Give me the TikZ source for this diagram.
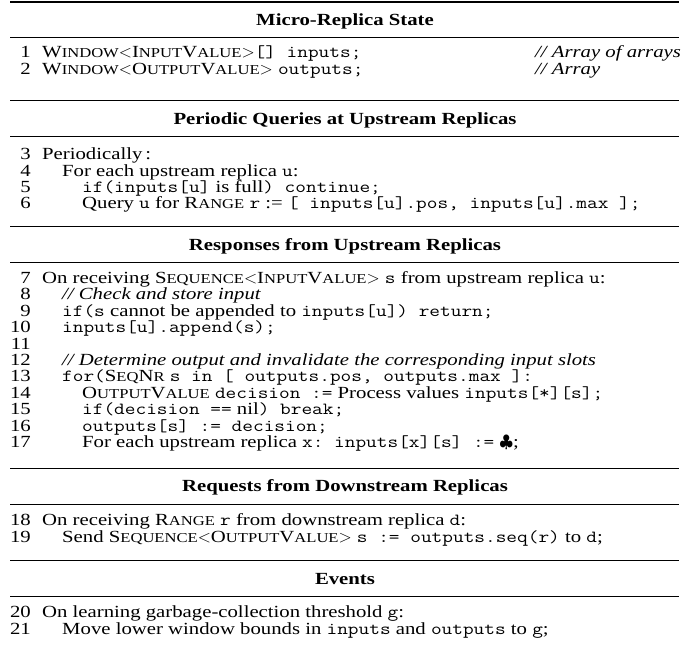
\documentclass[tikz,border=0pt]{standalone}
\usepackage{fontspec}
\setmainfont{Liberation Serif}[FakeStretch=1.22]
\setmonofont{Latin Modern Mono}[FakeStretch=1.22]
\usetikzlibrary{positioning}

\newcommand{\capsc}[2]{#1{\fontsize{13.6}{13.6}\selectfont #2}}
\newcommand{\mono}[1]{{\ttfamily #1}}

\tikzset{
  codeline/.style={anchor=base west, inner sep=0pt, font=\fontsize{17}{17}\selectfont},
  lineno/.style={anchor=base east, inner sep=0pt, font=\fontsize{17}{17}\selectfont},
  heading/.style={anchor=base, inner sep=0pt, font=\fontsize{17}{17}\selectfont\bfseries},
  comment/.style={codeline, font=\fontsize{17}{17}\selectfont\itshape},
  hrule/.style={line width=0.9pt},
}

\begin{document}
\begin{tikzpicture}[x=1pt, y=-1pt]

\useasboundingbox (0,0) rectangle (699,649);

\draw[hrule, line width=1.3pt] (10,2) -- (679,2);
\node[heading] (h1) at (345,25.5) {Micro-Replica State};
\draw[hrule] (10,37) -- (679,37);

\node[lineno] (n1) at (31,57.5) {1};
\node[codeline] (l1) at (42,57.5) {\capsc{W}{INDOW}$<$\capsc{I}{NPUT}\capsc{V}{ALUE}$>$\mono{[] inputs;}};
\node[comment] (c1) at (535,57.5) {// Array of arrays};
\node[lineno] (n2) at (31,74.5) {2};
\node[codeline] (l2) at (42,74.5) {\capsc{W}{INDOW}$<$\capsc{O}{UTPUT}\capsc{V}{ALUE}$>$ \mono{outputs;}};
\node[comment] (c2) at (535,74.5) {// Array};

\draw[hrule] (10,100) -- (679,100);
\node[heading] (h2) at (345,124.5) {Periodic Queries at Upstream Replicas};
\draw[hrule] (10,136) -- (679,136);

\node[lineno] (n3) at (31,159.5) {3};
\node[codeline] (l3) at (42,159.5) {Periodically\,:};
\node[lineno] (n4) at (31,176) {4};
\node[codeline] (l4) at (62,176) {For each upstream replica \mono{u}:};
\node[lineno] (n5) at (31,192.5) {5};
\node[codeline] (l5) at (82,192.5) {\mono{if(inputs[u]} is full\mono{) continue;}};
\node[lineno] (n6) at (31,208.5) {6};
\node[codeline] (l6) at (82,208.5) {Query \mono{u} for \capsc{R}{ANGE} \mono{r} := \mono{[ inputs[u].pos, inputs[u].max ];}};

\draw[hrule] (10,226) -- (679,226);
\node[heading] (h3) at (345,250.5) {Responses from Upstream Replicas};
\draw[hrule] (10,262) -- (679,262);

\node[lineno] (n7) at (31,283.5) {7};
\node[codeline] (l7) at (42,283.5) {On receiving \capsc{S}{EQUENCE}$<$\capsc{I}{NPUT}\capsc{V}{ALUE}$>$ \mono{s} from upstream replica \mono{u}:};
\node[lineno] (n8) at (31,299.9) {8};
\node[comment] (l8) at (62,299.9) {// Check and store input};
\node[lineno] (n9) at (31,316.3) {9};
\node[codeline] (l9) at (62,316.3) {\mono{if(s} cannot be appended to \mono{inputs[u]) return;}};
\node[lineno] (n10) at (31,332.7) {10};
\node[codeline] (l10) at (62,332.7) {\mono{inputs[u].append(s);}};
\node[lineno] (n11) at (31,349.1) {11};
\node[lineno] (n12) at (31,365.5) {12};
\node[comment] (l12) at (62,365.5) {// Determine output and invalidate the corresponding input slots};
\node[lineno] (n13) at (31,381.9) {13};
\node[codeline] (l13) at (62,381.9) {\mono{for(}\capsc{S}{EQ}\capsc{N}{R} \mono{s in [ outputs.pos, outputs.max ]:}};
\node[lineno] (n14) at (31,398.3) {14};
\node[codeline] (l14) at (82,398.3) {\capsc{O}{UTPUT}\capsc{V}{ALUE} \mono{decision :=} Process values \mono{inputs[*][s];}};
\node[lineno] (n15) at (31,414.7) {15};
\node[codeline] (l15) at (82,414.7) {\mono{if(decision ==} nil\mono{) break;}};
\node[lineno] (n16) at (31,431.1) {16};
\node[codeline] (l16) at (82,431.1) {\mono{outputs[s] := decision;}};
\node[lineno] (n17) at (31,447.5) {17};
\node[codeline] (l17) at (82,447.5) {For each upstream replica \mono{x: inputs[x][s] :=} $\clubsuit$;};

\draw[hrule] (10,468) -- (679,468);
\node[heading] (h4) at (345,491.5) {Requests from Downstream Replicas};
\draw[hrule] (10,504) -- (679,504);

\node[lineno] (n18) at (31,525.5) {18};
\node[codeline] (l18) at (42,525.5) {On receiving \capsc{R}{ANGE} \mono{r} from downstream replica \mono{d}:};
\node[lineno] (n19) at (31,542) {19};
\node[codeline] (l19) at (62,542) {Send \capsc{S}{EQUENCE}$<$\capsc{O}{UTPUT}\capsc{V}{ALUE}$>$ \mono{s := outputs.seq(r)} to \mono{d};};

\draw[hrule] (10,560) -- (679,560);
\node[heading] (h5) at (345,584.5) {Events};
\draw[hrule] (10,596) -- (679,596);

\node[lineno] (n20) at (31,617.5) {20};
\node[codeline] (l20) at (42,617.5) {On learning garbage-collection threshold \mono{g}:};
\node[lineno] (n21) at (31,634) {21};
\node[codeline] (l21) at (62,634) {Move lower window bounds in \mono{inputs} and \mono{outputs} to \mono{g};};

\end{tikzpicture}
\end{document}
